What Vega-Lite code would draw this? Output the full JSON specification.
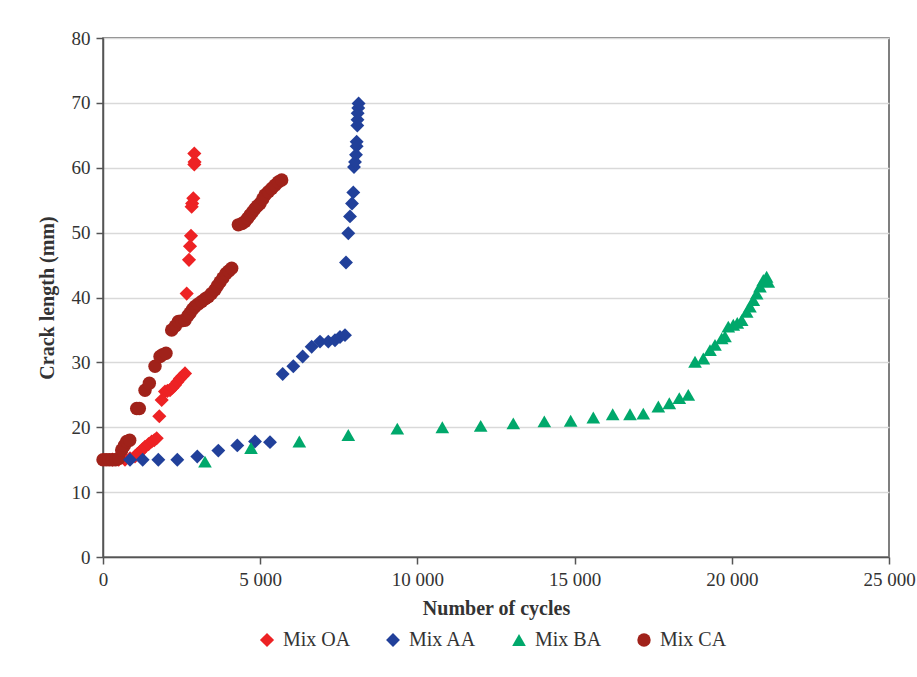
{
  "$schema": "https://vega.github.io/schema/vega-lite/v6.json",
  "width": 786,
  "height": 519,
  "autosize": {"type": "none"},
  "padding": {"left": 103, "top": 38, "right": 28, "bottom": 120},
  "background": "white",
  "config": {
    "font": "Liberation Serif",
    "view": {"stroke": "#555555", "strokeWidth": 1.5},
    "axis": {
      "labelFont": "Liberation Serif",
      "titleFont": "Liberation Serif",
      "labelFontSize": 19,
      "titleFontSize": 20,
      "labelColor": "#333333",
      "titleColor": "#333333",
      "titleFontWeight": "bold",
      "domainColor": "#555555",
      "domainWidth": 1.5,
      "tickColor": "#555555",
      "tickWidth": 1.5,
      "tickSize": 7,
      "labelPadding": 6,
      "gridColor": "#d9d9d9",
      "gridWidth": 1.5
    },
    "legend": {
      "labelFont": "Liberation Serif",
      "labelFontSize": 20,
      "labelColor": "#333333"
    }
  },
  "data": {
    "values": [
      {"series": "Mix OA", "cycles": 300, "crack": 15},
      {"series": "Mix OA", "cycles": 500, "crack": 15},
      {"series": "Mix OA", "cycles": 700, "crack": 15},
      {"series": "Mix OA", "cycles": 859, "crack": 15.2},
      {"series": "Mix OA", "cycles": 1018, "crack": 15.5},
      {"series": "Mix OA", "cycles": 1100, "crack": 15.9},
      {"series": "Mix OA", "cycles": 1177, "crack": 16.2},
      {"series": "Mix OA", "cycles": 1260, "crack": 16.6},
      {"series": "Mix OA", "cycles": 1336, "crack": 17.0},
      {"series": "Mix OA", "cycles": 1450, "crack": 17.4},
      {"series": "Mix OA", "cycles": 1549, "crack": 17.8},
      {"series": "Mix OA", "cycles": 1630, "crack": 18.0},
      {"series": "Mix OA", "cycles": 1707, "crack": 18.3},
      {"series": "Mix OA", "cycles": 1791, "crack": 21.7},
      {"series": "Mix OA", "cycles": 1867, "crack": 24.2},
      {"series": "Mix OA", "cycles": 1972, "crack": 25.5},
      {"series": "Mix OA", "cycles": 2050, "crack": 25.6},
      {"series": "Mix OA", "cycles": 2131, "crack": 25.7},
      {"series": "Mix OA", "cycles": 2210, "crack": 26.1},
      {"series": "Mix OA", "cycles": 2290, "crack": 26.5},
      {"series": "Mix OA", "cycles": 2370, "crack": 27.0},
      {"series": "Mix OA", "cycles": 2449, "crack": 27.5},
      {"series": "Mix OA", "cycles": 2530, "crack": 27.9},
      {"series": "Mix OA", "cycles": 2608, "crack": 28.3},
      {"series": "Mix OA", "cycles": 2662, "crack": 40.6},
      {"series": "Mix OA", "cycles": 2735, "crack": 45.8},
      {"series": "Mix OA", "cycles": 2767, "crack": 47.9},
      {"series": "Mix OA", "cycles": 2799, "crack": 49.5},
      {"series": "Mix OA", "cycles": 2820, "crack": 54.0},
      {"series": "Mix OA", "cycles": 2835, "crack": 54.5},
      {"series": "Mix OA", "cycles": 2873, "crack": 55.3},
      {"series": "Mix OA", "cycles": 2904, "crack": 60.5},
      {"series": "Mix OA", "cycles": 2912, "crack": 60.9},
      {"series": "Mix OA", "cycles": 2904, "crack": 62.2},
      {"series": "Mix CA", "cycles": 0, "crack": 15},
      {"series": "Mix CA", "cycles": 100, "crack": 15},
      {"series": "Mix CA", "cycles": 200, "crack": 15},
      {"series": "Mix CA", "cycles": 300, "crack": 15},
      {"series": "Mix CA", "cycles": 400, "crack": 15},
      {"series": "Mix CA", "cycles": 500, "crack": 15.2},
      {"series": "Mix CA", "cycles": 594, "crack": 16.5},
      {"series": "Mix CA", "cycles": 680, "crack": 17.2},
      {"series": "Mix CA", "cycles": 753, "crack": 17.8},
      {"series": "Mix CA", "cycles": 850, "crack": 18.0},
      {"series": "Mix CA", "cycles": 1072, "crack": 22.9},
      {"series": "Mix CA", "cycles": 1156, "crack": 22.9},
      {"series": "Mix CA", "cycles": 1336, "crack": 25.7},
      {"series": "Mix CA", "cycles": 1474, "crack": 26.8},
      {"series": "Mix CA", "cycles": 1654, "crack": 29.4},
      {"series": "Mix CA", "cycles": 1813, "crack": 30.9},
      {"series": "Mix CA", "cycles": 1900, "crack": 31.2},
      {"series": "Mix CA", "cycles": 2004, "crack": 31.4},
      {"series": "Mix CA", "cycles": 2184, "crack": 35.0},
      {"series": "Mix CA", "cycles": 2300, "crack": 35.6},
      {"series": "Mix CA", "cycles": 2397, "crack": 36.3},
      {"series": "Mix CA", "cycles": 2500, "crack": 36.4},
      {"series": "Mix CA", "cycles": 2608, "crack": 36.5},
      {"series": "Mix CA", "cycles": 2700, "crack": 37.2},
      {"series": "Mix CA", "cycles": 2767, "crack": 37.6},
      {"series": "Mix CA", "cycles": 2850, "crack": 38.2},
      {"series": "Mix CA", "cycles": 2926, "crack": 38.6},
      {"series": "Mix CA", "cycles": 3030, "crack": 39.0},
      {"series": "Mix CA", "cycles": 3139, "crack": 39.4},
      {"series": "Mix CA", "cycles": 3250, "crack": 39.8},
      {"series": "Mix CA", "cycles": 3350, "crack": 40.1},
      {"series": "Mix CA", "cycles": 3450, "crack": 40.6},
      {"series": "Mix CA", "cycles": 3562, "crack": 41.2},
      {"series": "Mix CA", "cycles": 3640, "crack": 41.8},
      {"series": "Mix CA", "cycles": 3721, "crack": 42.4},
      {"series": "Mix CA", "cycles": 3812, "crack": 43.0},
      {"series": "Mix CA", "cycles": 3912, "crack": 43.7},
      {"series": "Mix CA", "cycles": 4000, "crack": 44.1},
      {"series": "Mix CA", "cycles": 4093, "crack": 44.5},
      {"series": "Mix CA", "cycles": 4304, "crack": 51.2},
      {"series": "Mix CA", "cycles": 4420, "crack": 51.4},
      {"series": "Mix CA", "cycles": 4516, "crack": 51.7},
      {"series": "Mix CA", "cycles": 4600, "crack": 52.2},
      {"series": "Mix CA", "cycles": 4676, "crack": 52.7},
      {"series": "Mix CA", "cycles": 4760, "crack": 53.2},
      {"series": "Mix CA", "cycles": 4835, "crack": 53.7},
      {"series": "Mix CA", "cycles": 4910, "crack": 54.1},
      {"series": "Mix CA", "cycles": 4994, "crack": 54.5},
      {"series": "Mix CA", "cycles": 5080, "crack": 55.2},
      {"series": "Mix CA", "cycles": 5153, "crack": 55.8},
      {"series": "Mix CA", "cycles": 5260, "crack": 56.3},
      {"series": "Mix CA", "cycles": 5366, "crack": 56.8},
      {"series": "Mix CA", "cycles": 5470, "crack": 57.3},
      {"series": "Mix CA", "cycles": 5576, "crack": 57.8},
      {"series": "Mix CA", "cycles": 5684, "crack": 58.1},
      {"series": "Mix AA", "cycles": 859, "crack": 15},
      {"series": "Mix AA", "cycles": 1262, "crack": 15},
      {"series": "Mix AA", "cycles": 1760, "crack": 15},
      {"series": "Mix AA", "cycles": 2364, "crack": 15},
      {"series": "Mix AA", "cycles": 2999, "crack": 15.5},
      {"series": "Mix AA", "cycles": 3668, "crack": 16.4},
      {"series": "Mix AA", "cycles": 4272, "crack": 17.2},
      {"series": "Mix AA", "cycles": 4835, "crack": 17.8},
      {"series": "Mix AA", "cycles": 5312, "crack": 17.7},
      {"series": "Mix AA", "cycles": 5715, "crack": 28.2},
      {"series": "Mix AA", "cycles": 6053, "crack": 29.4},
      {"series": "Mix AA", "cycles": 6351, "crack": 30.9},
      {"series": "Mix AA", "cycles": 6637, "crack": 32.4},
      {"series": "Mix AA", "cycles": 6902, "crack": 33.2},
      {"series": "Mix AA", "cycles": 7166, "crack": 33.2},
      {"series": "Mix AA", "cycles": 7379, "crack": 33.4},
      {"series": "Mix AA", "cycles": 7538, "crack": 33.9},
      {"series": "Mix AA", "cycles": 7697, "crack": 34.2},
      {"series": "Mix AA", "cycles": 7729, "crack": 45.4},
      {"series": "Mix AA", "cycles": 7802, "crack": 49.9},
      {"series": "Mix AA", "cycles": 7856, "crack": 52.5},
      {"series": "Mix AA", "cycles": 7920, "crack": 54.5},
      {"series": "Mix AA", "cycles": 7961, "crack": 56.2},
      {"series": "Mix AA", "cycles": 7983, "crack": 60.1},
      {"series": "Mix AA", "cycles": 8015, "crack": 60.9},
      {"series": "Mix AA", "cycles": 8047, "crack": 62.0},
      {"series": "Mix AA", "cycles": 8068, "crack": 63.3},
      {"series": "Mix AA", "cycles": 8068, "crack": 64.0},
      {"series": "Mix AA", "cycles": 8089, "crack": 66.5},
      {"series": "Mix AA", "cycles": 8095, "crack": 67.4},
      {"series": "Mix AA", "cycles": 8100, "crack": 68.4},
      {"series": "Mix AA", "cycles": 8120, "crack": 69.2},
      {"series": "Mix AA", "cycles": 8130, "crack": 69.9},
      {"series": "Mix BA", "cycles": 3244, "crack": 14.7},
      {"series": "Mix BA", "cycles": 4707, "crack": 16.8},
      {"series": "Mix BA", "cycles": 6244, "crack": 17.8},
      {"series": "Mix BA", "cycles": 7802, "crack": 18.8},
      {"series": "Mix BA", "cycles": 9361, "crack": 19.8},
      {"series": "Mix BA", "cycles": 10792, "crack": 20.0},
      {"series": "Mix BA", "cycles": 12013, "crack": 20.2},
      {"series": "Mix BA", "cycles": 13050, "crack": 20.6},
      {"series": "Mix BA", "cycles": 14037, "crack": 20.9},
      {"series": "Mix BA", "cycles": 14875, "crack": 21.0},
      {"series": "Mix BA", "cycles": 15595, "crack": 21.5},
      {"series": "Mix BA", "cycles": 16212, "crack": 22.0},
      {"series": "Mix BA", "cycles": 16762, "crack": 22.0},
      {"series": "Mix BA", "cycles": 17185, "crack": 22.1},
      {"series": "Mix BA", "cycles": 17663, "crack": 23.2},
      {"series": "Mix BA", "cycles": 18013, "crack": 23.7},
      {"series": "Mix BA", "cycles": 18330, "crack": 24.5},
      {"series": "Mix BA", "cycles": 18616, "crack": 25.0},
      {"series": "Mix BA", "cycles": 18830, "crack": 30.1},
      {"series": "Mix BA", "cycles": 19094, "crack": 30.6},
      {"series": "Mix BA", "cycles": 19307, "crack": 31.9},
      {"series": "Mix BA", "cycles": 19466, "crack": 32.7},
      {"series": "Mix BA", "cycles": 19679, "crack": 33.7},
      {"series": "Mix BA", "cycles": 19784, "crack": 34.0},
      {"series": "Mix BA", "cycles": 19889, "crack": 35.5},
      {"series": "Mix BA", "cycles": 20048, "crack": 35.8},
      {"series": "Mix BA", "cycles": 20175, "crack": 36.1},
      {"series": "Mix BA", "cycles": 20315, "crack": 36.5},
      {"series": "Mix BA", "cycles": 20474, "crack": 37.8},
      {"series": "Mix BA", "cycles": 20578, "crack": 38.6},
      {"series": "Mix BA", "cycles": 20684, "crack": 39.6},
      {"series": "Mix BA", "cycles": 20791, "crack": 40.6},
      {"series": "Mix BA", "cycles": 20896, "crack": 41.7},
      {"series": "Mix BA", "cycles": 21002, "crack": 42.7},
      {"series": "Mix BA", "cycles": 21108, "crack": 43.2},
      {"series": "Mix BA", "cycles": 21161, "crack": 42.4}
    ]
  },
  "mark": {"type": "point", "filled": true, "opacity": 1},
  "encoding": {
    "x": {
      "field": "cycles",
      "type": "quantitative",
      "scale": {"domain": [0, 25000], "nice": false},
      "axis": {
        "title": "Number of cycles",
        "values": [0, 5000, 10000, 15000, 20000, 25000],
        "grid": false,
        "labelExpr": "replace(format(datum.value, ','), ',', ' ')",
        "labelOverlap": false,
        "labelFlush": false,
        "titlePadding": 9
      }
    },
    "y": {
      "field": "crack",
      "type": "quantitative",
      "scale": {"domain": [0, 80], "nice": false},
      "axis": {
        "title": "Crack length (mm)",
        "values": [0, 10, 20, 30, 40, 50, 60, 70, 80],
        "grid": true,
        "titlePadding": 14
      }
    },
    "color": {
      "field": "series",
      "type": "nominal",
      "scale": {
        "domain": ["Mix OA", "Mix AA", "Mix BA", "Mix CA"],
        "range": ["#ED2224", "#21409A", "#00A86B", "#A0221A"]
      },
      "legend": {
        "orient": "none",
        "legendX": 154,
        "legendY": 592,
        "direction": "horizontal",
        "title": null,
        "columnPadding": 32,
        "labelOffset": 6
      }
    },
    "shape": {
      "field": "series",
      "type": "nominal",
      "scale": {
        "domain": ["Mix OA", "Mix AA", "Mix BA", "Mix CA"],
        "range": ["diamond", "diamond", "triangle-up", "circle"]
      }
    },
    "size": {
      "field": "series",
      "type": "nominal",
      "scale": {
        "domain": ["Mix OA", "Mix AA", "Mix BA", "Mix CA"],
        "range": [200, 180, 220, 330]
      }
    }
  }
}
